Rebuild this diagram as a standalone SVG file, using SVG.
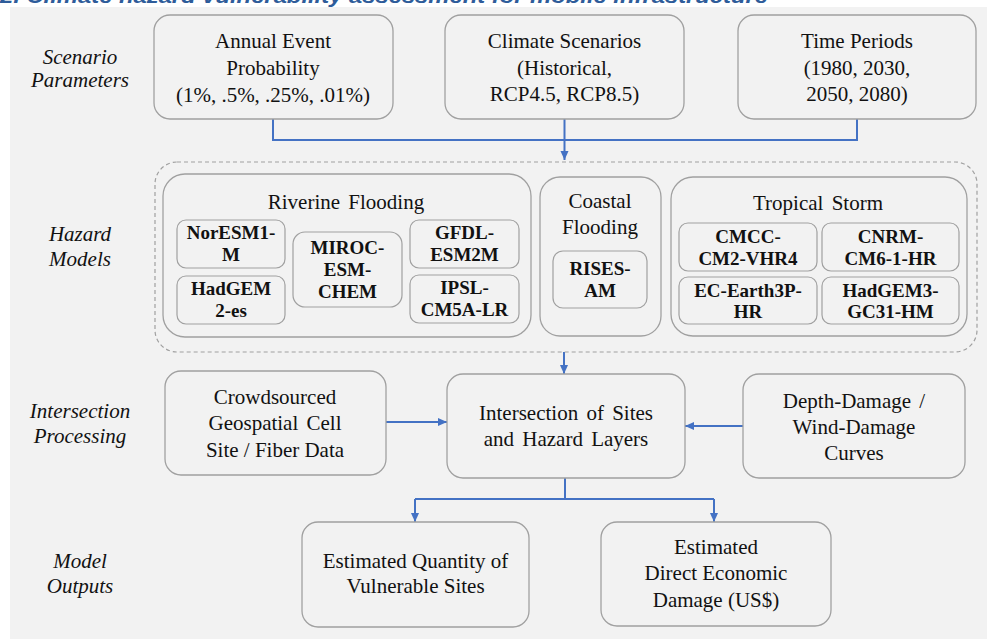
<svg xmlns="http://www.w3.org/2000/svg" width="987" height="639" viewBox="0 0 987 639">
<defs>
<marker id="ah" markerUnits="userSpaceOnUse" markerWidth="10" markerHeight="10" refX="9" refY="5" orient="auto">
<path d="M0,1 L9,5 L0,9 Z" fill="#4472c4"/>
</marker>
<style>
.bg{fill:#f2f2f2}
.box{fill:#f2f2f2;stroke:#a0a0a0;stroke-width:1.3}
.sub{fill:#f2f2f2;stroke:#a0a0a0;stroke-width:1.2}
.dash{fill:none;stroke:#a0a0a0;stroke-width:1.2;stroke-dasharray:4 3}
.t{font-size:21px;fill:#111111;text-anchor:middle}
.lab{font-size:21px;font-style:italic;fill:#111111;text-anchor:middle}
.b{font-size:19px;font-weight:bold;fill:#111111;text-anchor:middle}
.c{fill:none;stroke:#4472c4;stroke-width:2}
.title{font-size:20px;font-weight:bold;font-style:italic;fill:#2e5c9a}
</style>
</defs>
<rect x="0" y="0" width="987" height="639" fill="#ffffff"/>
<text class="title" font-family="Liberation Sans, Arial, sans-serif" x="0" y="3" textLength="768" lengthAdjust="spacingAndGlyphs">2. Climate hazard vulnerability assessment for mobile infrastructure</text>
<rect class="bg" x="10" y="7" width="977" height="632"/>

<g id="labels" font-family="Liberation Serif, Times New Roman, serif">
<text class="lab" x="80" y="64">Scenario</text>
<text class="lab" x="80" y="87">Parameters</text>
<text class="lab" x="80" y="241">Hazard</text>
<text class="lab" x="80" y="266">Models</text>
<text class="lab" x="80" y="418">Intersection</text>
<text class="lab" x="80" y="443">Processing</text>
<text class="lab" x="80" y="568">Model</text>
<text class="lab" x="80" y="593">Outputs</text>
</g>

<g id="connectors">
<path class="c" d="M273,119 V140 H857 V119"/>
<path class="c" d="M564.5,119 V160" marker-end="url(#ah)"/>
<path class="c" d="M564,352 V374" marker-end="url(#ah)"/>
<path class="c" d="M386,422 H447" marker-end="url(#ah)"/>
<path class="c" d="M743,426 H685" marker-end="url(#ah)"/>
<path class="c" d="M565,478 V499 M415,499 H714"/>
<path class="c" d="M415,499 V522" marker-end="url(#ah)"/>
<path class="c" d="M714,499 V522" marker-end="url(#ah)"/>
</g>

<g id="nodes" font-family="Liberation Serif, Times New Roman, serif">
<g id="annual">
<rect class="box" x="154" y="15" width="239" height="104" rx="16"/>
<text class="t" x="273" y="48">Annual Event</text>
<text class="t" x="273" y="75">Probability</text>
<text class="t" x="273" y="102">(1%, .5%, .25%, .01%)</text>
</g>
<g id="climate">
<rect class="box" x="445" y="15" width="239" height="104" rx="16"/>
<text class="t" x="564.5" y="48">Climate Scenarios</text>
<text class="t" x="564.5" y="75">(Historical,</text>
<text class="t" x="564.5" y="101">RCP4.5, RCP8.5)</text>
</g>
<g id="time">
<rect class="box" x="738" y="15" width="238" height="104" rx="16"/>
<text class="t" x="857" y="48">Time Periods</text>
<text class="t" x="857" y="75">(1980, 2030,</text>
<text class="t" x="857" y="101">2050, 2080)</text>
</g>

<g id="hazard-models">
<rect class="dash" x="155" y="162" width="822" height="190" rx="22"/>
</g>

<g id="riverine">
<rect class="box" x="163" y="174" width="368" height="163" rx="22"/>
<text class="t" x="346" y="209" word-spacing="3">Riverine Flooding</text>
</g>
<g id="noresm">
<rect class="sub" x="177" y="220" width="108" height="48" rx="9"/>
<text class="b" x="231" y="239">NorESM1-</text>
<text class="b" x="231" y="261">M</text>
</g>
<g id="hadgem2">
<rect class="sub" x="177" y="276" width="108" height="48" rx="9"/>
<text class="b" x="231" y="295">HadGEM</text>
<text class="b" x="231" y="317">2-es</text>
</g>
<g id="miroc">
<rect class="sub" x="293" y="232" width="109" height="75" rx="12"/>
<text class="b" x="347.5" y="254">MIROC-</text>
<text class="b" x="347.5" y="276">ESM-</text>
<text class="b" x="347.5" y="298">CHEM</text>
</g>
<g id="gfdl">
<rect class="sub" x="410" y="220" width="109" height="48" rx="9"/>
<text class="b" x="464.5" y="239">GFDL-</text>
<text class="b" x="464.5" y="261">ESM2M</text>
</g>
<g id="ipsl">
<rect class="sub" x="410" y="275" width="109" height="48" rx="9"/>
<text class="b" x="464.5" y="294">IPSL-</text>
<text class="b" x="464.5" y="316">CM5A-LR</text>
</g>

<g id="coastal">
<rect class="box" x="540" y="177" width="121" height="159" rx="20"/>
<text class="t" x="600" y="208">Coastal</text>
<text class="t" x="600" y="234">Flooding</text>
</g>
<g id="rises">
<rect class="sub" x="553" y="251" width="94" height="57" rx="10"/>
<text class="b" x="600" y="275">RISES-</text>
<text class="b" x="600" y="297">AM</text>
</g>

<g id="tropical">
<rect class="box" x="671" y="177" width="296" height="159" rx="22"/>
<text class="t" x="818" y="210" word-spacing="3">Tropical Storm</text>
</g>
<g id="cmcc">
<rect class="sub" x="679" y="223" width="138" height="48" rx="9"/>
<text class="b" x="748" y="243">CMCC-</text>
<text class="b" x="748" y="265">CM2-VHR4</text>
</g>
<g id="cnrm">
<rect class="sub" x="822" y="223" width="137" height="48" rx="9"/>
<text class="b" x="890.5" y="243">CNRM-</text>
<text class="b" x="890.5" y="265">CM6-1-HR</text>
</g>
<g id="ecearth">
<rect class="sub" x="679" y="277" width="138" height="47" rx="9"/>
<text class="b" x="748" y="297">EC-Earth3P-</text>
<text class="b" x="748" y="318">HR</text>
</g>
<g id="hadgem3">
<rect class="sub" x="822" y="277" width="137" height="47" rx="9"/>
<text class="b" x="890.5" y="297">HadGEM3-</text>
<text class="b" x="890.5" y="318">GC31-HM</text>
</g>

<g id="crowdsourced">
<rect class="box" x="165" y="371" width="221" height="104" rx="16"/>
<text class="t" x="275" y="404">Crowdsourced</text>
<text class="t" x="275" y="430" word-spacing="3">Geospatial Cell</text>
<text class="t" x="275" y="457">Site / Fiber Data</text>
</g>
<g id="intersection">
<rect class="box" x="447" y="374" width="238" height="104" rx="16"/>
<text class="t" x="566" y="420" word-spacing="3">Intersection of Sites</text>
<text class="t" x="566" y="446" word-spacing="3">and Hazard Layers</text>
</g>
<g id="damage-curves">
<rect class="box" x="743" y="374" width="222" height="104" rx="16"/>
<text class="t" x="854" y="408" word-spacing="3">Depth-Damage /</text>
<text class="t" x="854" y="434">Wind-Damage</text>
<text class="t" x="854" y="460">Curves</text>
</g>

<g id="quantity">
<rect class="box" x="302" y="522" width="227" height="105" rx="16"/>
<text class="t" x="415.5" y="568">Estimated Quantity of</text>
<text class="t" x="415.5" y="593">Vulnerable Sites</text>
</g>
<g id="economic">
<rect class="box" x="601" y="522" width="230" height="104" rx="16"/>
<text class="t" x="716" y="554">Estimated</text>
<text class="t" x="716" y="580">Direct Economic</text>
<text class="t" x="716" y="607">Damage (US$)</text>
</g>
</g>
</svg>
